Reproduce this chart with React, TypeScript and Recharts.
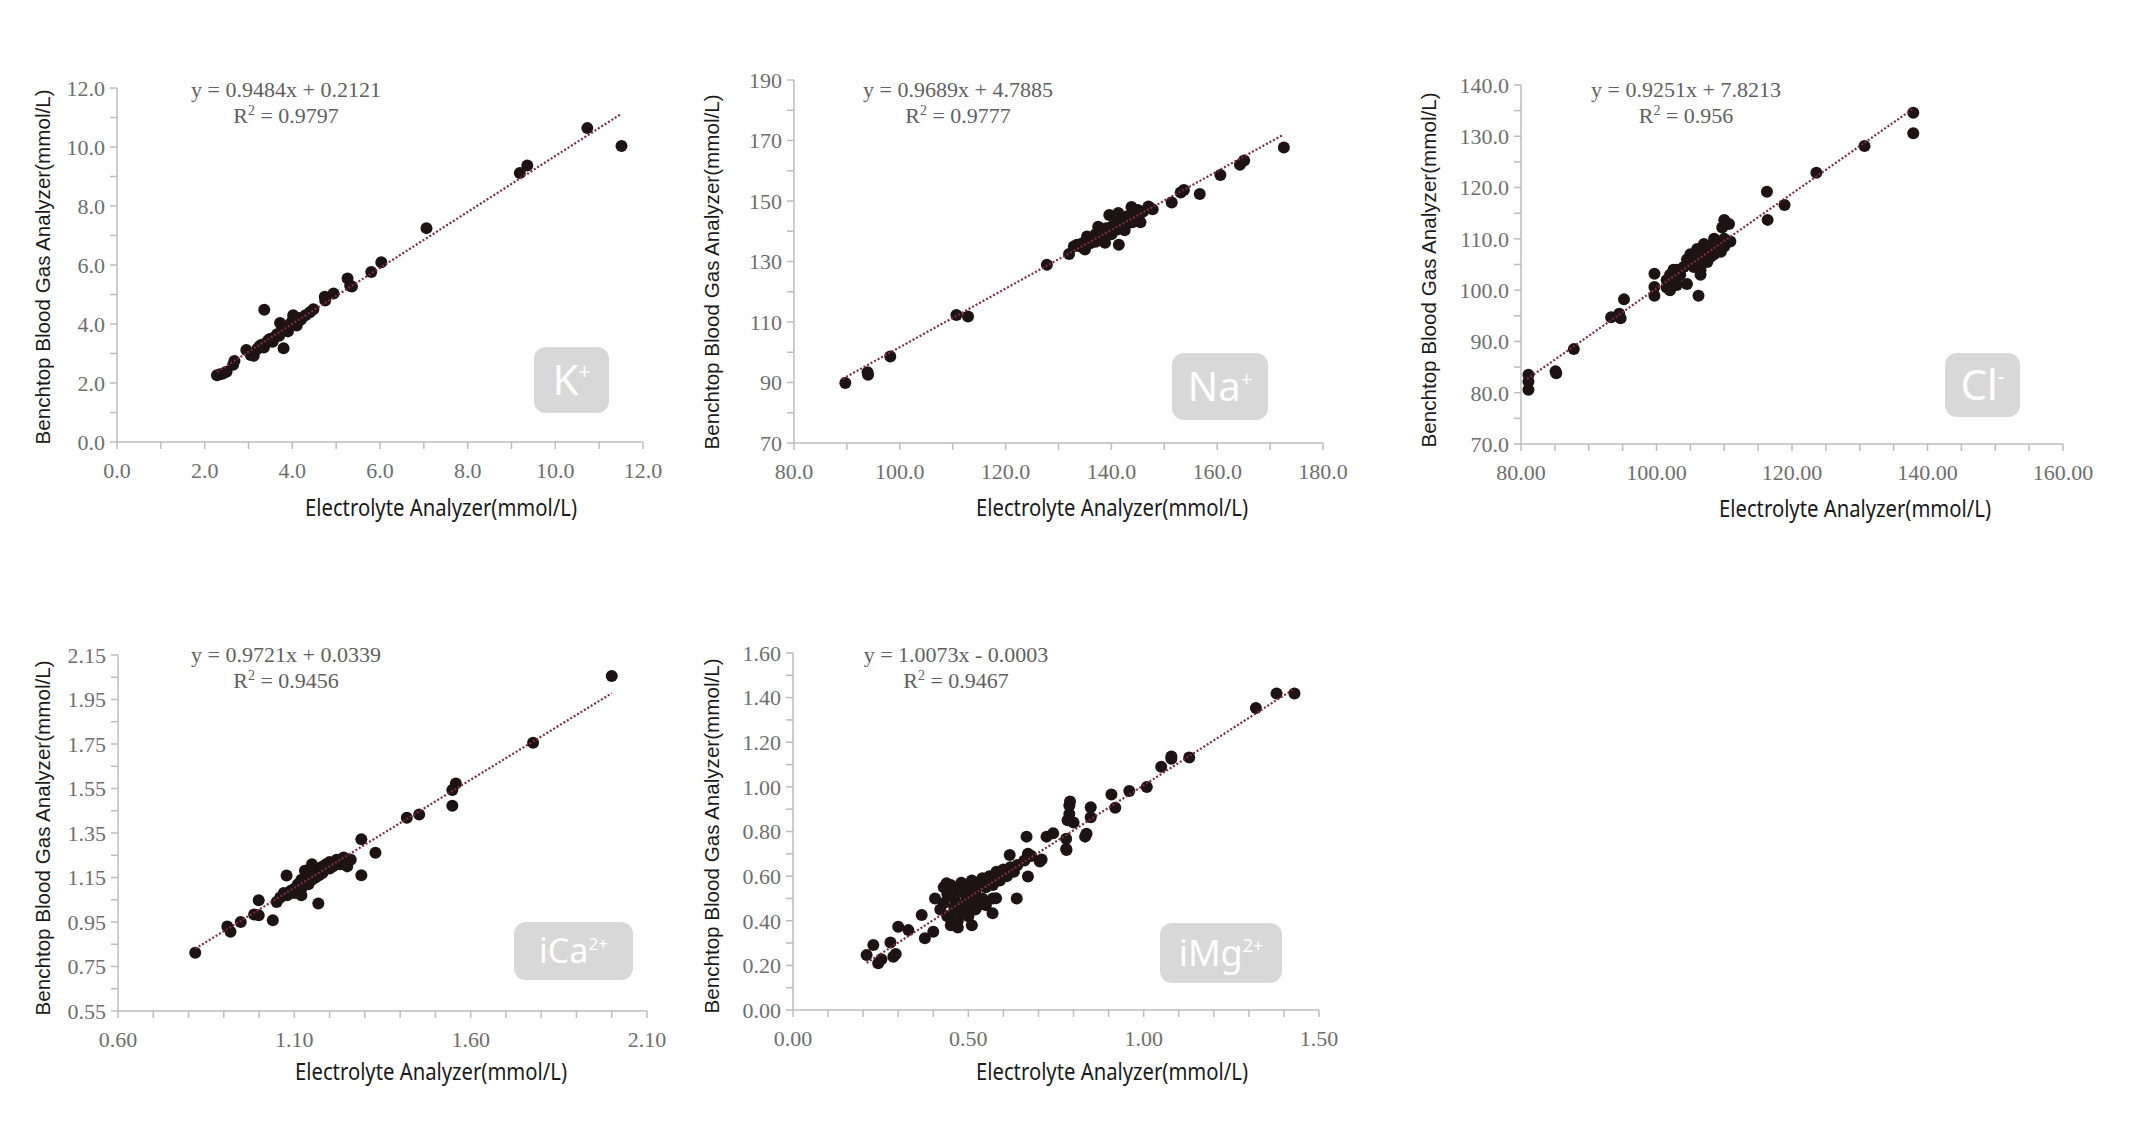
import React from 'react';
import { ScatterChart, Scatter, XAxis, YAxis } from 'recharts';

type Pair = [number, number];

// ---- K+ ----
const kPoints: Pair[] = [
  [2.28, 2.26], [2.35, 2.3], [2.42, 2.32], [2.5, 2.38], [2.65, 2.62], [2.68, 2.75],
  [2.95, 3.12], [3.05, 2.95], [3.12, 2.92], [3.2, 3.15], [3.25, 3.25], [3.3, 3.3],
  [3.35, 3.2], [3.4, 3.35], [3.45, 3.45], [3.5, 3.5], [3.55, 3.4], [3.6, 3.55],
  [3.65, 3.65], [3.7, 3.6], [3.75, 3.75], [3.8, 3.8], [3.8, 3.18], [3.85, 3.9],
  [3.9, 3.75], [3.95, 4.0], [4.0, 4.1], [4.05, 4.2], [4.1, 3.95], [4.15, 4.2],
  [4.2, 4.15], [4.3, 4.3], [4.4, 4.4], [4.48, 4.5], [3.36, 4.48], [3.72, 4.03],
  [4.02, 4.3], [4.75, 4.8], [4.74, 4.92], [4.94, 5.03], [5.26, 5.54], [5.32, 5.3],
  [5.36, 5.27], [5.8, 5.76], [6.03, 6.09], [7.06, 7.25], [9.19, 9.12], [9.36, 9.37],
  [10.73, 10.64], [11.51, 10.03],
];
const kFit = { slope: 0.9484, intercept: 0.2121, r2: '0.9797', text: 'y = 0.9484x + 0.2121' };
const kTrendX: Pair = [2.28, 11.48];
const kXTicks = [0, 1, 2, 3, 4, 5, 6, 7, 8, 9, 10, 11, 12];
const kXLabels = [0, 2, 4, 6, 8, 10, 12];
const kYTicks = [0, 1, 2, 3, 4, 5, 6, 7, 8, 9, 10, 11, 12];
const kYLabels = [0, 2, 4, 6, 8, 10, 12];

// ---- Na+ ----
const naPoints: Pair[] = [
  [89.7, 89.8], [93.9, 93.4], [94.0, 92.6], [98.2, 98.6], [110.7, 112.3], [112.9, 111.8],
  [127.8, 128.9], [132.0, 132.5], [132.9, 135.0], [133.5, 135.5], [134, 135], [134.5, 136],
  [135, 134], [135, 135.5], [135.4, 138.3], [135.5, 137], [136, 136], [136, 137.5],
  [136.5, 138], [137, 136.5], [137, 139], [137.5, 141.5], [137.5, 138], [138, 139.5],
  [138, 137], [138.5, 140], [138.8, 136.2], [139, 138.5], [139, 141], [139.5, 140],
  [139.6, 145.4], [140, 141.5], [140, 139], [140.5, 142], [141, 140.5], [141, 143],
  [141.3, 146], [141.5, 142], [142, 143.5], [142, 141], [142.5, 140.3], [142.5, 144],
  [143, 142.5], [143, 145], [143.5, 144], [143.8, 148], [144, 146], [144, 143],
  [144.5, 145], [145, 147], [145.5, 143], [145.5, 146], [146, 146.5], [141.4, 135.5],
  [147.0, 148.2], [147.8, 147.3], [151.4, 149.5], [153.1, 152.8], [153.7, 153.6],
  [156.7, 152.3], [160.6, 158.6], [164.3, 162.0], [165.1, 163.4], [172.6, 167.7],
];
const naFit = { slope: 0.9689, intercept: 4.7885, r2: '0.9777', text: 'y = 0.9689x + 4.7885' };
const naTrendX: Pair = [89.2, 172.3];
const naXTicks = [80, 90, 100, 110, 120, 130, 140, 150, 160, 170, 180];
const naXLabels = [80, 100, 120, 140, 160, 180];
const naYTicks = [70, 80, 90, 100, 110, 120, 130, 140, 150, 160, 170, 180, 190];
const naYLabels = [70, 90, 110, 130, 150, 170, 190];

// ---- Cl- ----
const clPoints: Pair[] = [
  [81.1, 83.5], [81.1, 82.2], [81.1, 80.6], [85.1, 84.2], [85.2, 83.8], [87.8, 88.5],
  [93.3, 94.7], [94.5, 95.4], [94.7, 94.5], [95.2, 98.2], [99.7, 103.2], [99.7, 100.6],
  [99.7, 98.9], [101.5, 100.5], [101.5, 102], [102, 101.5], [102, 103], [102, 100],
  [102.5, 104], [103, 102.5], [103, 104], [103, 101], [103.5, 103], [104, 104.5],
  [104.5, 106], [104.5, 101.2], [105, 105], [105, 107], [105.5, 106.5], [105.5, 104.5],
  [106, 105], [106, 108], [106.2, 98.9], [106.5, 104], [106.5, 107], [106.5, 103],
  [107, 106], [107, 109], [107.5, 107.5], [107.5, 105.5], [108, 106.5], [108, 108.5],
  [108.5, 107], [108.5, 110], [109, 108], [109, 109.5], [109.5, 107.5], [110, 110],
  [110, 108.5], [109.7, 112.2], [110, 113.7], [110.7, 112.9], [110.9, 109.5],
  [116.3, 119.2], [116.4, 113.7], [118.9, 116.6], [123.6, 122.9], [130.7, 128.1],
  [137.9, 134.6], [137.9, 130.6],
];
const clFit = { slope: 0.9251, intercept: 7.8213, r2: '0.956', text: 'y = 0.9251x + 7.8213' };
const clTrendX: Pair = [80.9, 137.9];
const clXTicks = [80, 85, 90, 95, 100, 105, 110, 115, 120, 125, 130, 135, 140, 145, 150, 155, 160];
const clXLabels = [80, 100, 120, 140, 160];
const clYTicks = [70, 75, 80, 85, 90, 95, 100, 105, 110, 115, 120, 125, 130, 135, 140];
const clYLabels = [70, 80, 90, 100, 110, 120, 130, 140];

// ---- iCa2+ ----
const caPoints: Pair[] = [
  [0.819, 0.812], [0.91, 0.93], [0.919, 0.906], [0.948, 0.95], [0.986, 0.984],
  [0.999, 1.048], [0.999, 0.98], [1.039, 0.958], [1.05, 1.04], [1.06, 1.06],
  [1.07, 1.08], [1.078, 1.159], [1.08, 1.07], [1.09, 1.09], [1.1, 1.1], [1.1, 1.08],
  [1.11, 1.12], [1.12, 1.1], [1.12, 1.14], [1.12, 1.07], [1.13, 1.13], [1.13, 1.18],
  [1.14, 1.15], [1.14, 1.12], [1.15, 1.17], [1.15, 1.14], [1.15, 1.21], [1.16, 1.18],
  [1.16, 1.15], [1.168, 1.033], [1.17, 1.19], [1.17, 1.16], [1.18, 1.2], [1.18, 1.17],
  [1.19, 1.21], [1.2, 1.19], [1.2, 1.22], [1.21, 1.2], [1.22, 1.23], [1.23, 1.21],
  [1.24, 1.24], [1.25, 1.22], [1.26, 1.23], [1.25, 1.2], [1.29, 1.322], [1.29, 1.16],
  [1.33, 1.261], [1.419, 1.419], [1.454, 1.433], [1.548, 1.472], [1.548, 1.543],
  [1.558, 1.573], [1.777, 1.756], [2.0, 2.056],
];
const caFit = { slope: 0.9721, intercept: 0.0339, r2: '0.9456', text: 'y = 0.9721x + 0.0339' };
const caTrendX: Pair = [0.819, 2.0];
const caXTicks = [0.6, 0.7, 0.8, 0.9, 1.0, 1.1, 1.2, 1.3, 1.4, 1.5, 1.6, 1.7, 1.8, 1.9, 2.0, 2.1];
const caXLabels = [0.6, 1.1, 1.6, 2.1];
const caYTicks = [0.55, 0.65, 0.75, 0.85, 0.95, 1.05, 1.15, 1.25, 1.35, 1.45, 1.55, 1.65, 1.75, 1.85, 1.95, 2.05, 2.15];
const caYLabels = [0.55, 0.75, 0.95, 1.15, 1.35, 1.55, 1.75, 1.95, 2.15];

// ---- iMg2+ ----
const mgPoints: Pair[] = [
  [0.21, 0.246], [0.229, 0.291], [0.243, 0.209], [0.252, 0.227], [0.278, 0.303],
  [0.286, 0.239], [0.293, 0.251], [0.3, 0.373], [0.329, 0.358], [0.367, 0.426],
  [0.376, 0.322], [0.4, 0.351], [0.405, 0.5], [0.42, 0.45], [0.43, 0.48], [0.43, 0.55],
  [0.438, 0.568], [0.44, 0.42], [0.44, 0.52], [0.45, 0.56], [0.45, 0.38], [0.45, 0.42],
  [0.46, 0.46], [0.46, 0.5], [0.47, 0.54], [0.47, 0.4], [0.47, 0.37], [0.48, 0.44],
  [0.48, 0.57], [0.49, 0.48], [0.49, 0.52], [0.5, 0.46], [0.5, 0.55], [0.5, 0.42],
  [0.51, 0.5], [0.51, 0.58], [0.51, 0.38], [0.52, 0.45], [0.52, 0.53], [0.53, 0.57],
  [0.53, 0.47], [0.54, 0.5], [0.54, 0.59], [0.55, 0.47], [0.55, 0.55], [0.56, 0.6],
  [0.57, 0.56], [0.57, 0.5], [0.569, 0.434], [0.58, 0.62], [0.579, 0.501], [0.59, 0.58],
  [0.6, 0.63], [0.61, 0.6], [0.618, 0.695], [0.62, 0.64], [0.63, 0.62], [0.638, 0.5],
  [0.64, 0.65], [0.66, 0.67], [0.666, 0.777], [0.67, 0.598], [0.67, 0.7], [0.68, 0.69],
  [0.704, 0.665], [0.709, 0.674], [0.723, 0.777], [0.742, 0.792], [0.779, 0.722],
  [0.779, 0.767], [0.78, 0.717], [0.783, 0.85], [0.788, 0.879], [0.788, 0.916],
  [0.79, 0.934], [0.8, 0.84], [0.833, 0.777], [0.837, 0.79], [0.849, 0.864],
  [0.849, 0.909], [0.908, 0.966], [0.919, 0.906], [0.959, 0.981], [1.009, 0.999],
  [1.05, 1.09], [1.079, 1.126], [1.079, 1.136], [1.13, 1.132], [1.32, 1.353],
  [1.379, 1.418], [1.43, 1.418],
];
const mgFit = { slope: 1.0073, intercept: -0.0003, r2: '0.9467', text: 'y = 1.0073x - 0.0003' };
const mgTrendX: Pair = [0.21, 1.43];
const mgXTicks = [0, 0.1, 0.2, 0.3, 0.4, 0.5, 0.6, 0.7, 0.8, 0.9, 1.0, 1.1, 1.2, 1.3, 1.4, 1.5];
const mgXLabels = [0, 0.5, 1.0, 1.5];
const mgYTicks = [0, 0.1, 0.2, 0.3, 0.4, 0.5, 0.6, 0.7, 0.8, 0.9, 1.0, 1.1, 1.2, 1.3, 1.4, 1.5, 1.6];
const mgYLabels = [0, 0.2, 0.4, 0.6, 0.8, 1.0, 1.2, 1.4, 1.6];

const X_TITLE = 'Electrolyte Analyzer(mmol/L)';
const Y_TITLE = 'Benchtop Blood Gas Analyzer(mmol/L)';

const AXIS_GREY = '#bdbdbd';
const TICK_GREY = '#6e6e6e';
const DOT = '#1d1315';
const TREND = '#7a2d3e';
const SERIF = '"Liberation Serif", "Times New Roman", serif';
const SANS = '"Noto Sans", "Liberation Sans", sans-serif';

interface PanelProps {
  points: Pair[];
  fit: { slope: number; intercept: number; r2: string; text: string };
  trendX: Pair;
  xTicks: number[];
  xLabels: number[];
  yTicks: number[];
  yLabels: number[];
  xDec: number;
  yDec: number;
  plot: { left: number; top: number; w: number; h: number };
}

const PAD_L = 110;
const PAD_T = 30;
const PAD_R = 45;
const PAD_B = 60;

const Dot = (props: any) => <circle cx={props.cx} cy={props.cy} r={6} fill={DOT} />;
const NoDot = () => <g />;

const Panel: React.FC<PanelProps> = ({ points, fit, trendX, xTicks, xLabels, yTicks, yLabels, xDec, yDec, plot }) => {
  const data = points.map(([x, y]) => ({ x, y }));
  const trend = trendX.map((x) => ({ x, y: fit.slope * x + fit.intercept }));
  const tickStyle = { fontFamily: SERIF, fontSize: 22, fill: TICK_GREY };
  return (
    <div style={{ position: 'absolute', left: plot.left - PAD_L, top: plot.top - PAD_T }}>
      <ScatterChart
        width={plot.w + PAD_L + PAD_R}
        height={plot.h + PAD_T + PAD_B}
        margin={{ top: PAD_T, right: PAD_R, left: 20, bottom: 0 }}
      >
        <XAxis
          type="number"
          dataKey="x"
          domain={[xTicks[0], xTicks[xTicks.length - 1]]}
          ticks={xTicks}
          interval={0}
          height={PAD_B}
          tickSize={7}
          tickMargin={13}
          tick={tickStyle}
          stroke={AXIS_GREY}
          strokeWidth={1.5}
          tickFormatter={(v: number) => (xLabels.includes(v) ? v.toFixed(xDec) : '')}
        />
        <YAxis
          type="number"
          dataKey="y"
          domain={[yTicks[0], yTicks[yTicks.length - 1]]}
          ticks={yTicks}
          interval={0}
          width={90}
          tickSize={7}
          tickMargin={5}
          tick={tickStyle}
          stroke={AXIS_GREY}
          strokeWidth={1.5}
          tickFormatter={(v: number) => (yLabels.includes(v) ? v.toFixed(yDec) : '')}
        />
        <Scatter data={data} shape={Dot} isAnimationActive={false} />
        <Scatter
          data={trend}
          shape={NoDot}
          line={{ stroke: TREND, strokeWidth: 2.2, strokeDasharray: '2 2' }}
          isAnimationActive={false}
        />
      </ScatterChart>
    </div>
  );
};

interface NoteProps {
  fit: { r2: string; text: string };
  eqX: number;
  eqY: number;
  badge: { x: number; y: number; w: number; h: number; main: string; sup: string; size: number };
  xTitle: { x: number; y: number };
  yTitle: { x: number; y: number };
}

const Notes: React.FC<NoteProps> = ({ fit, eqX, eqY, badge, xTitle, yTitle }) => (
  <g>
    <text x={eqX} y={eqY + 7} textAnchor="middle" fontFamily={SERIF} fontSize={22} fill="#5f5f5f">
      {fit.text}
    </text>
    <text x={eqX} y={eqY + 33} textAnchor="middle" fontFamily={SERIF} fontSize={22} fill="#5f5f5f">
      R<tspan fontSize={14} dy={-8}>2</tspan>
      <tspan dy={8}>{` = ${fit.r2}`}</tspan>
    </text>
    <rect x={badge.x} y={badge.y} width={badge.w} height={badge.h} rx={12} fill="#d8d8d8" />
    <text
      x={badge.x + badge.w / 2}
      y={badge.y + badge.h / 2 + badge.size * 0.36}
      textAnchor="middle"
      fontFamily={SANS}
      fontSize={badge.size}
      fill="#ffffff"
    >
      {badge.main}
      <tspan fontSize={badge.size * 0.5} dy={-badge.size * 0.38}>
        {badge.sup}
      </tspan>
    </text>
    <text
      x={xTitle.x}
      y={xTitle.y}
      textAnchor="middle"
      dominantBaseline="central"
      fontFamily={SANS}
      fontSize={23}
      fill="#1a1a1a"
      textLength={272}
      lengthAdjust="spacingAndGlyphs"
    >
      {X_TITLE}
    </text>
    <text
      transform={`translate(${yTitle.x},${yTitle.y}) rotate(-90)`}
      textAnchor="middle"
      dominantBaseline="central"
      fontFamily='"Liberation Sans", Arial, sans-serif'
      fontSize={21}
      fill="#1a1a1a"
      textLength={355}
      lengthAdjust="spacingAndGlyphs"
    >
      {Y_TITLE}
    </text>
  </g>
);

const App: React.FC = () => {
  return (
    <div style={{ position: 'absolute', left: 0, top: 0, width: 2131, height: 1130, background: '#fff' }}>
      <Panel points={kPoints} fit={kFit} trendX={kTrendX} xTicks={kXTicks} xLabels={kXLabels}
        yTicks={kYTicks} yLabels={kYLabels} xDec={1} yDec={1} plot={{ left: 117, top: 88, w: 526, h: 354 }} />
      <Panel points={naPoints} fit={naFit} trendX={naTrendX} xTicks={naXTicks} xLabels={naXLabels}
        yTicks={naYTicks} yLabels={naYLabels} xDec={1} yDec={0} plot={{ left: 794, top: 80, w: 529, h: 363 }} />
      <Panel points={clPoints} fit={clFit} trendX={clTrendX} xTicks={clXTicks} xLabels={clXLabels}
        yTicks={clYTicks} yLabels={clYLabels} xDec={2} yDec={1} plot={{ left: 1521, top: 85, w: 542, h: 359 }} />
      <Panel points={caPoints} fit={caFit} trendX={caTrendX} xTicks={caXTicks} xLabels={caXLabels}
        yTicks={caYTicks} yLabels={caYLabels} xDec={2} yDec={2} plot={{ left: 118, top: 655, w: 529, h: 356 }} />
      <Panel points={mgPoints} fit={mgFit} trendX={mgTrendX} xTicks={mgXTicks} xLabels={mgXLabels}
        yTicks={mgYTicks} yLabels={mgYLabels} xDec={2} yDec={2} plot={{ left: 793, top: 653, w: 526, h: 357 }} />
      <svg width={2131} height={1130} style={{ position: 'absolute', left: 0, top: 0, pointerEvents: 'none' }}>
        <Notes fit={kFit} eqX={286} eqY={90}
          badge={{ x: 534, y: 347, w: 75, h: 66, main: 'K', sup: '+', size: 42 }}
          xTitle={{ x: 441, y: 507 }} yTitle={{ x: 42, y: 267 }} />
        <Notes fit={naFit} eqX={958} eqY={90}
          badge={{ x: 1172, y: 353, w: 96, h: 67, main: 'Na', sup: '+', size: 40 }}
          xTitle={{ x: 1112, y: 507 }} yTitle={{ x: 711, y: 272 }} />
        <Notes fit={clFit} eqX={1686} eqY={90}
          badge={{ x: 1945, y: 353, w: 75, h: 64, main: 'Cl', sup: '-', size: 42 }}
          xTitle={{ x: 1855, y: 508 }} yTitle={{ x: 1428, y: 270 }} />
        <Notes fit={caFit} eqX={286} eqY={655}
          badge={{ x: 514, y: 922, w: 119, h: 58, main: 'iCa', sup: '2+', size: 34 }}
          xTitle={{ x: 431, y: 1071 }} yTitle={{ x: 42, y: 838 }} />
        <Notes fit={mgFit} eqX={956} eqY={655}
          badge={{ x: 1160, y: 923, w: 122, h: 60, main: 'iMg', sup: '2+', size: 36 }}
          xTitle={{ x: 1112, y: 1071 }} yTitle={{ x: 711, y: 836 }} />
      </svg>
    </div>
  );
};

export default App;
